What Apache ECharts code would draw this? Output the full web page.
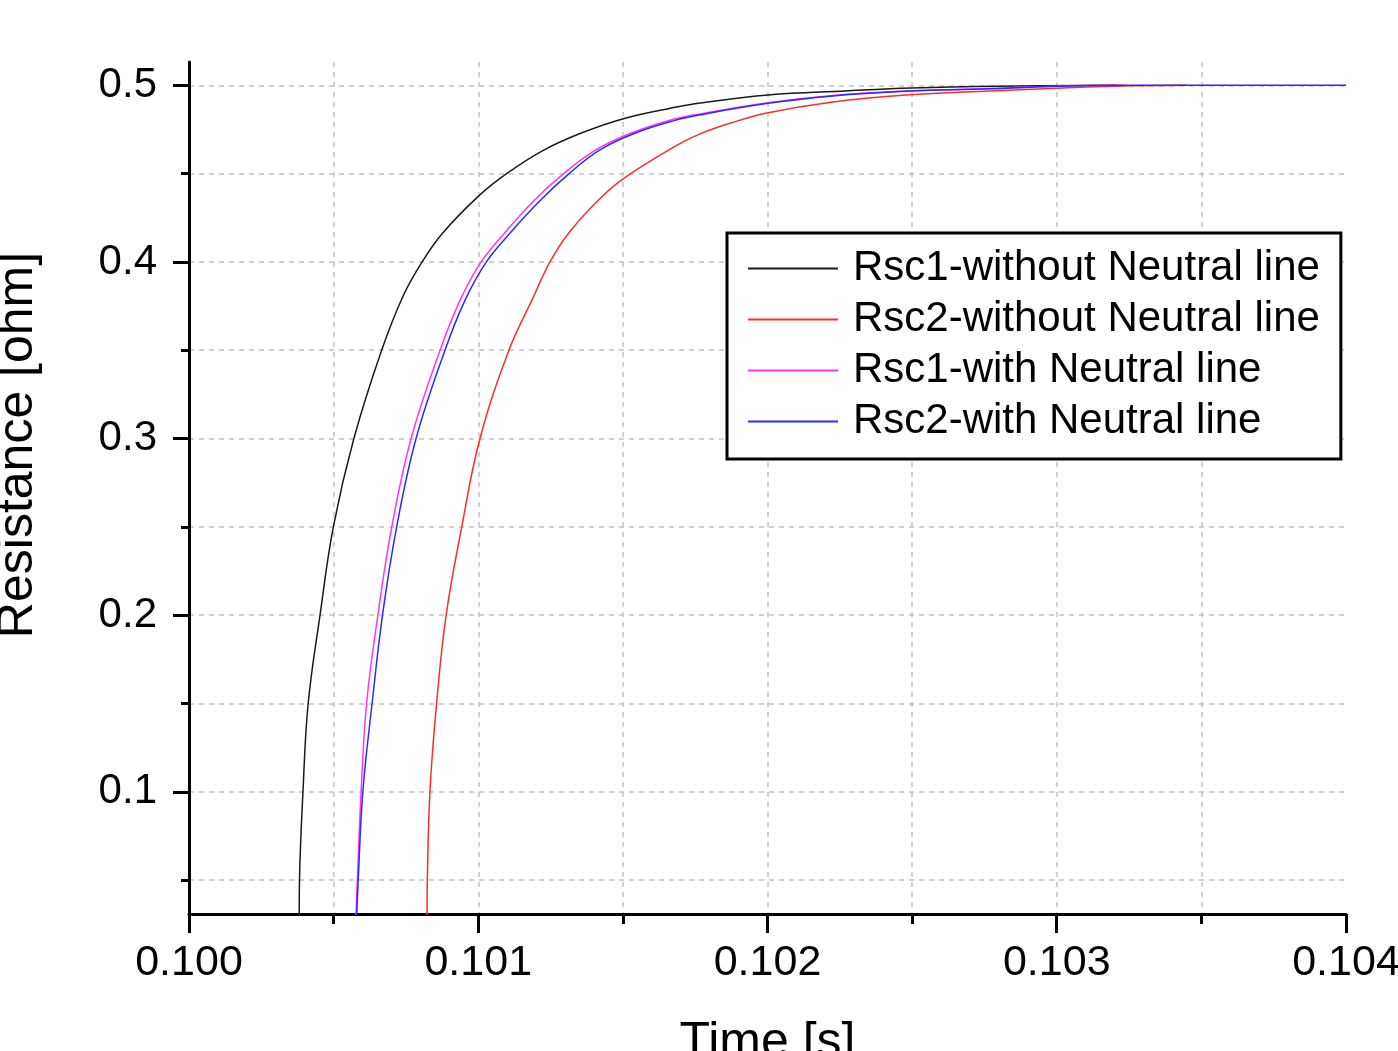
<!DOCTYPE html>
<html>
<head>
<meta charset="utf-8">
<script src="https://cdn.jsdelivr.net/npm/echarts@6/dist/echarts.min.js"></script>
<style>
  html, body { margin: 0; padding: 0; background: #fff; }
  #chart { width: 1398px; height: 1051px; }
</style>
</head>
<body>
<div id="chart"></div>
<script>
// Time axis ticks [s] and resistance axis ticks [ohm]
const timeTicks = [0.100, 0.101, 0.102, 0.103, 0.104];
const resistanceMajorTicks = [0.1, 0.2, 0.3, 0.4, 0.5];
const resistanceMinorTicks = [0.05, 0.15, 0.25, 0.35, 0.45];

const seriesNames = [
  'Rsc1-without Neutral line',
  'Rsc2-without Neutral line',
  'Rsc1-with Neutral line',
  'Rsc2-with Neutral line'
];

// Rsc1 without neutral line
const tRsc1Without = [0.100381, 0.100382, 0.100394, 0.100412, 0.100453, 0.100499, 0.100570, 0.100666, 0.100741, 0.100804, 0.100875, 0.100999, 0.101098, 0.101225, 0.101352, 0.101502, 0.101686, 0.101767, 0.102002, 0.102268, 0.102500, 0.102800, 0.103208];
const rRsc1Without = [0.0300, 0.050, 0.100, 0.150, 0.200, 0.250, 0.300, 0.350, 0.3810, 0.3995, 0.416, 0.4370, 0.450, 0.4632, 0.4727, 0.4811, 0.4877, 0.4900, 0.4945, 0.4968, 0.4985, 0.4995, 0.5000];

// Rsc2 without neutral line
const tRsc2Without = [0.100823, 0.100824, 0.100833, 0.100856, 0.100889, 0.100943, 0.101006, 0.101106, 0.101185, 0.101248, 0.101311, 0.101414, 0.101502, 0.101686, 0.101767, 0.101870, 0.102002, 0.102226, 0.102480, 0.102770, 0.103020, 0.103200, 0.103450];
const rRsc2Without = [0.0300, 0.050, 0.100, 0.150, 0.200, 0.250, 0.300, 0.350, 0.3782, 0.400, 0.416, 0.4348, 0.4472, 0.4660, 0.4725, 0.4785, 0.4845, 0.4906, 0.4945, 0.4968, 0.4985, 0.4995, 0.5000];

// Rsc1 with neutral line
const tRsc1With = [0.100577, 0.100582, 0.100595, 0.100614, 0.100653, 0.100701, 0.100768, 0.100868, 0.100937, 0.101010, 0.101089, 0.101193, 0.101295, 0.101404, 0.101525, 0.101663, 0.101767, 0.102002, 0.102226, 0.102458, 0.102770, 0.103000, 0.103233];
const rRsc1With = [0.0300, 0.050, 0.100, 0.150, 0.200, 0.250, 0.300, 0.350, 0.3782, 0.400, 0.416, 0.4348, 0.450, 0.4632, 0.4727, 0.4802, 0.4838, 0.4902, 0.4943, 0.4966, 0.4982, 0.4995, 0.5000];

// Rsc2 with neutral line
const tRsc2With = [0.100580, 0.100585, 0.100601, 0.100633, 0.100669, 0.100718, 0.100785, 0.100885, 0.100954, 0.101028, 0.101108, 0.101214, 0.101314, 0.101418, 0.101539, 0.101677, 0.101767, 0.102002, 0.102226, 0.102458, 0.102770, 0.103000, 0.103250, 0.104000];
const rRsc2With = [0.0300, 0.050, 0.100, 0.150, 0.200, 0.250, 0.300, 0.350, 0.3782, 0.400, 0.416, 0.4348, 0.450, 0.4632, 0.4727, 0.4800, 0.4833, 0.4898, 0.4940, 0.4965, 0.4980, 0.4994, 0.5000, 0.5000];

const seriesColors = ['#1a1a1a', '#ff2a2a', '#ff33ff', '#2a2aff'];

const pair = (ts, rs) => ts.map((t, i) => [t, rs[i]]);
const curves = [
  pair(tRsc1Without, rRsc1Without),
  pair(tRsc2Without, rRsc2Without),
  pair(tRsc1With, rRsc1With),
  pair(tRsc2With, rRsc2With)
];

const FONT = 'Liberation Sans, Arial, sans-serif';
const gridLine = { show: true, lineStyle: { color: '#c4c4c4', width: 1.5, type: [5, 5] } };

const chart = echarts.init(document.getElementById('chart'), null, { renderer: 'canvas' });

chart.setOption({
  animation: false,
  backgroundColor: '#fff',
  grid: { left: 189, right: 52, top: 62, bottom: 137, containLabel: false, outerBoundsMode: 'none' },
  legend: {
    orient: 'vertical',
    left: 727,
    top: 233,
    padding: [10, 21, 12, 21],
    itemGap: 0,
    itemWidth: 90,
    itemHeight: 2,
    icon: 'rect',
    backgroundColor: '#fff',
    borderColor: '#000',
    borderWidth: 3,
    textStyle: { fontFamily: FONT, fontSize: 42, lineHeight: 51, color: '#000', padding: [0, 0, 0, 10] },
    data: seriesNames
  },
  xAxis: {
    type: 'value',
    min: timeTicks[0],
    max: timeTicks[timeTicks.length - 1],
    interval: 0.001,
    name: 'Time [s]',
    nameLocation: 'middle',
    nameGap: 104,
    nameTextStyle: { fontFamily: FONT, fontSize: 50, color: '#000' },
    axisLine: { show: true, lineStyle: { color: '#000', width: 3 } },
    axisTick: { show: true, inside: false, length: 19, lineStyle: { color: '#000', width: 3 } },
    minorTick: { show: true, splitNumber: 2, length: 10, lineStyle: { color: '#000', width: 3 } },
    axisLabel: {
      margin: 28,
      fontFamily: FONT, fontSize: 43, color: '#000',
      formatter: v => v.toFixed(3)
    },
    splitLine: Object.assign({ showMinLine: false, showMaxLine: false }, gridLine),
    minorSplitLine: gridLine
  },
  yAxis: [
    {
      type: 'value',
      min: 0.0308,
      max: 0.5132,
      name: 'Resistance [ohm]',
      nameLocation: 'middle',
      nameGap: 146,
      nameTextStyle: { fontFamily: FONT, fontSize: 50, color: '#000', padding: [0, 0, 0, 86] },
      axisLine: { show: true, lineStyle: { color: '#000', width: 3 } },
      axisTick: { show: true, inside: false, length: 16, customValues: resistanceMajorTicks, lineStyle: { color: '#000', width: 3 } },
      axisLabel: {
        margin: 32,
        customValues: resistanceMajorTicks,
        fontFamily: FONT, fontSize: 42, color: '#000',
        formatter: v => v.toFixed(1)
      },
      splitLine: gridLine
    },
    {
      type: 'value',
      min: 0.0308,
      max: 0.5132,
      position: 'left',
      axisLine: { show: false },
      axisTick: { show: true, inside: false, length: 8, customValues: resistanceMinorTicks, lineStyle: { color: '#000', width: 3 } },
      axisLabel: { show: false },
      splitLine: gridLine
    }
  ],
  series: curves.map((data, i) => ({
    name: seriesNames[i],
    type: 'line',
    yAxisIndex: 0,
    data: data,
    symbol: 'none',
    showSymbol: false,
    smooth: 0.4,
    clip: true,
    lineStyle: { color: seriesColors[i], width: 1.5 },
    itemStyle: { color: seriesColors[i] },
    z: 3 + i
  }))
});
</script>
</body>
</html>
